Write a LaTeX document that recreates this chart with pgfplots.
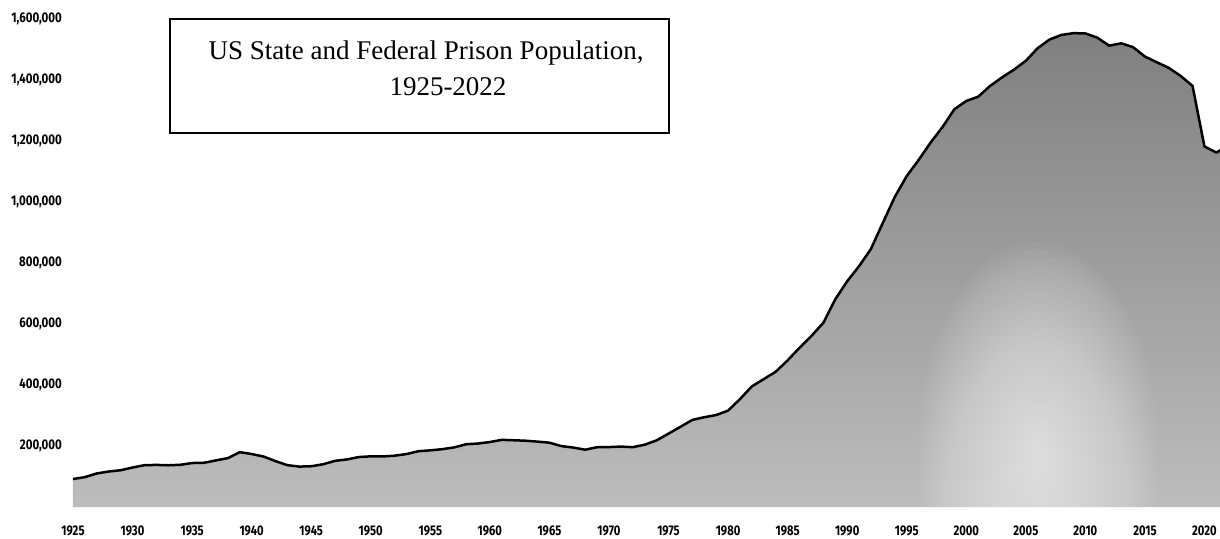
\documentclass[border=0pt]{standalone}
\usepackage{pgfplots}
\pgfplotsset{compat=1.18}
\usepackage{pgfplotstable}
\usepackage{fontspec}
\setmainfont{Liberation Serif}
\newfontfamily\tickfont[FakeStretch=0.8]{Fira Sans}
\newfontfamily\ytickfont[FakeStretch=0.82]{Fira Sans}
\usetikzlibrary{calc}

\pgfplotstableread{
year pop
1925 91669
1926 97991
1927 109983
1928 116390
1929 120496
1930 129453
1931 137082
1932 137997
1933 136810
1934 138316
1935 144180
1936 145038
1937 152741
1938 160285
1939 179818
1940 173706
1941 165439
1942 150384
1943 137220
1944 132456
1945 133649
1946 140079
1947 151304
1948 155977
1949 163749
1950 166123
1951 165680
1952 168233
1953 173579
1954 182901
1955 185780
1956 189565
1957 195414
1958 205643
1959 208105
1960 212953
1961 220149
1962 218830
1963 217283
1964 214336
1965 210895
1966 199654
1967 194896
1968 187914
1969 196007
1970 196429
1971 198061
1972 196092
1973 204211
1974 218466
1975 240593
1976 262833
1977 285456
1978 294396
1979 301470
1980 315974
1981 353673
1982 395516
1983 419346
1984 443398
1985 480568
1986 522084
1987 560812
1988 603732
1989 680907
1990 739980
1991 789610
1992 846277
1993 932074
1994 1016691
1995 1085022
1996 1137722
1997 1194581
1998 1245402
1999 1304074
2000 1331278
2001 1345217
2002 1380516
2003 1408361
2004 1433728
2005 1462866
2006 1504598
2007 1532850
2008 1547742
2009 1553574
2010 1552669
2011 1538847
2012 1512430
2013 1520403
2014 1507781
2015 1476847
2016 1458173
2017 1439808
2018 1413399
2019 1380427
2020 1182166
2021 1161962
2022 1185597
}\prison

\begin{document}
\begin{tikzpicture}
\begin{axis}[
  scale only axis,
  width=1147pt, height=507pt,
  xmin=1925, xmax=2021.31,
  ymin=0, ymax=1662295,
  axis line style={draw=none},
  major tick length=0pt,
  tick style={draw=none},
  xtick={1925,1930,...,2020},
  ytick={200000,400000,...,1600000},
  scaled y ticks=false,
  scaled x ticks=false,
  /pgf/number format/assume math mode=true,
  x tick label style={/pgf/number format/1000 sep={}, font=\tickfont\bfseries\fontsize{14}{14}\selectfont, inner sep=0pt, anchor=north, yshift=-19pt},
  y tick label style={/pgf/number format/fixed, /pgf/number format/1000 sep={,}, font=\ytickfont\bfseries\fontsize{14}{14}\selectfont, inner sep=0pt, anchor=east, xshift=-11pt},
]
\addplot[draw=none, top color=black!50, bottom color=black!26] table[x=year,y=pop]{\prison} \closedcycle;
\pgfplotsinvokeforeach{1,...,30}{
  \fill[white, fill opacity=0.035] (axis cs:2006,180000) ellipse [x radius=#1*4pt, y radius=#1*7pt];
}
\addplot[black, line width=2.5pt, line join=round, no markers] table[x=year,y=pop]{\prison};
\coordinate (O) at (axis cs:1925,0);
\end{axis}
\node[draw, line width=2.4pt, minimum width=499pt, minimum height=114pt, inner sep=0pt] at ($(O)+(346.5pt,431pt)$) {};
\node[inner sep=0pt, font=\fontsize{27}{27}\selectfont] at ($(O)+(353pt,454pt)$) {US State and Federal Prison Population,};
\node[inner sep=0pt, font=\fontsize{27}{27}\selectfont] at ($(O)+(375pt,420pt)$) {1925-2022};
\pgfresetboundingbox
\path[use as bounding box] ($(O)+(-73pt,-31pt)$) rectangle ++(1220pt,538pt);
\end{tikzpicture}
\end{document}
